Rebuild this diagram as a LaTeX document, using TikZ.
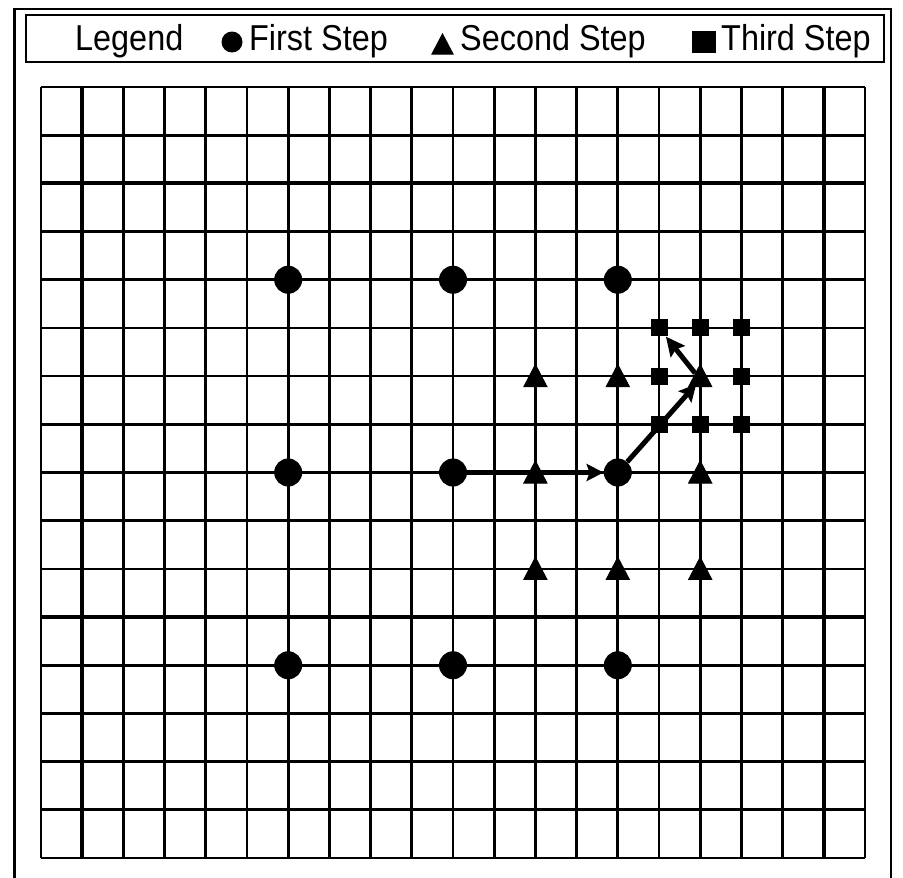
\documentclass[tikz,border=0pt]{standalone}
\usepackage{fontspec}
\usepackage{graphicx}
\setmainfont{Liberation Sans}
\usetikzlibrary{shapes.geometric,arrows.meta}
\begin{document}
\begin{tikzpicture}[x=1pt,y=-1pt,
  frameline/.style={line width=2.8pt},
  gridline/.style={line width=2.7pt},
  gridthick/.style={line width=3.8pt},
  firststep/.style={circle,fill=black,inner sep=0pt,minimum size=28pt},
  secondstep/.style={isosceles triangle,shape border rotate=90,isosceles triangle stretches,fill=black,draw=black,line width=1pt,inner sep=0pt,minimum width=23pt,minimum height=22pt,anchor=lower side},
  thirdstep/.style={rectangle,fill=black,inner sep=0pt,minimum size=17pt},
  legendtext/.style={anchor=base west,inner sep=0pt,font=\fontsize{36}{40}\selectfont},
  steparrow/.style={line width=5pt,-{Stealth[length=17pt,width=17pt,inset=3pt]}}
]
\useasboundingbox (0,0) rectangle (903,878);
% outer frame and legend box
\draw[frameline] (14.5,878) -- (14.5,9) -- (891,9) -- (891,878);
\draw[frameline] (26,15) rectangle (884,62);
% legend
\node[legendtext] (lgtitle) at (75,50) {\scalebox{0.9}[1]{Legend}};
\node[firststep,minimum size=21pt] (lgcircle) at (232,42) {};
\node[legendtext] (lgfirst) at (249,50) {\scalebox{0.9}[1]{First Step}};
\node[secondstep,minimum width=21pt,minimum height=20pt] (lgtri) at (442.5,54.5) {};
\node[legendtext] (lgsecond) at (460,50) {\scalebox{0.9}[1]{Second Step}};
\node[thirdstep,minimum width=24pt,minimum height=22pt] (lgsquare) at (703.5,42) {};
\node[legendtext] (lgthird) at (721,50) {\scalebox{0.9}[1]{Third Step}};
% grid
\foreach \i in {0,...,20} {
  \draw[gridline] ({41+41.2*\i},87) -- ({41+41.2*\i},858);
}
\foreach \j in {0,...,16} {
  \draw[gridline] (41,{87+48.1875*\j}) -- (865,{87+48.1875*\j});
}
\foreach \i in {1,19} {
  \draw[gridthick] ({41+41.2*\i},87) -- ({41+41.2*\i},858);
}
\foreach \j in {2,11} {
  \draw[gridthick] (41,{87+48.1875*\j}) -- (865,{87+48.1875*\j});
}
% first step
\foreach \i in {6,10,14} {
  \foreach \j in {4,8,12} {
    \node[firststep] (c-\i-\j) at ({41+41.2*\i},{87+48.1875*\j}) {};
  }
}
% second step
\foreach \i/\j in {12/6,14/6,16/6,12/8,16/8,12/10,14/10,16/10} {
  \node[secondstep] (t-\i-\j) at ({41+41.2*\i},{87+48.1875*\j+11}) {};
}
% third step
\foreach \i/\j in {15/5,16/5,17/5,15/6,17/6,15/7,16/7,17/7} {
  \node[thirdstep] (s-\i-\j) at ({41+41.2*\i},{87+48.1875*\j}) {};
}
% arrows
\draw[steparrow] (c-10-8) -- (c-14-8);
\draw[steparrow,shorten >=-4pt] (c-14-8) -- (t-16-6);
\draw[steparrow,-{Stealth[length=19pt,width=18pt,inset=3pt]}] (t-16-6) -- (s-15-5);
\end{tikzpicture}
\end{document}
